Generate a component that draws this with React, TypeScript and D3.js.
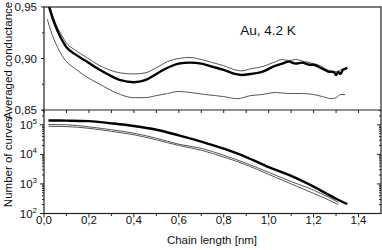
import React from 'react';
import * as d3 from 'd3';

// top panel: averaged conductance vs chain length
const condX = [0.02, 0.04, 0.06, 0.08, 0.10, 0.14, 0.19, 0.24, 0.29, 0.34, 0.40, 0.45, 0.50, 0.55, 0.60, 0.65, 0.70, 0.75, 0.80, 0.85, 0.88, 0.92, 0.97, 1.02, 1.06, 1.09, 1.12, 1.15, 1.18, 1.20, 1.23, 1.25, 1.27, 1.29, 1.30, 1.31, 1.32, 1.33, 1.34, 1.35];
const condMean = [0.952, 0.938, 0.927, 0.918, 0.911, 0.904, 0.897, 0.890, 0.884, 0.879, 0.877, 0.879, 0.885, 0.891, 0.895, 0.896, 0.895, 0.892, 0.889, 0.885, 0.884, 0.885, 0.887, 0.892, 0.895, 0.897, 0.895, 0.896, 0.894, 0.894, 0.891, 0.889, 0.887, 0.887, 0.884, 0.887, 0.885, 0.889, 0.890, 0.891];

const condUpX = [0.02, 0.04, 0.06, 0.08, 0.10, 0.14, 0.19, 0.24, 0.29, 0.34, 0.40, 0.45, 0.50, 0.55, 0.60, 0.65, 0.70, 0.75, 0.80, 0.85, 0.88, 0.92, 0.97, 1.02, 1.06, 1.09, 1.12, 1.16, 1.20, 1.23, 1.26, 1.28, 1.30, 1.32, 1.33];
const condUp = [0.955, 0.941, 0.930, 0.922, 0.915, 0.908, 0.901, 0.894, 0.889, 0.886, 0.885, 0.886, 0.891, 0.897, 0.900, 0.901, 0.899, 0.896, 0.893, 0.889, 0.888, 0.890, 0.892, 0.896, 0.899, 0.898, 0.899, 0.897, 0.895, 0.893, 0.889, 0.888, 0.887, 0.889, 0.890];

const condLowX = [0.015, 0.03, 0.06, 0.08, 0.10, 0.14, 0.19, 0.24, 0.29, 0.34, 0.40, 0.45, 0.50, 0.55, 0.60, 0.65, 0.72, 0.80, 0.86, 0.92, 0.97, 1.03, 1.09, 1.15, 1.20, 1.24, 1.28, 1.30, 1.32, 1.34];
const condLow = [0.938, 0.927, 0.911, 0.903, 0.897, 0.890, 0.882, 0.876, 0.870, 0.865, 0.862, 0.862, 0.864, 0.866, 0.868, 0.867, 0.865, 0.863, 0.861, 0.864, 0.865, 0.867, 0.866, 0.866, 0.865, 0.863, 0.861, 0.862, 0.865, 0.865];

// bottom panel: number of curves vs chain length
const countX = [0.02, 0.1, 0.2, 0.3, 0.4, 0.5, 0.6, 0.7, 0.8, 0.9, 1.0, 1.1, 1.2, 1.3, 1.35];
const countAll = [140000, 138000, 133000, 112000, 91000, 68000, 44000, 27000, 15500, 8100, 3700, 1860, 810, 316, 209];
const countThinX = [0.02, 0.1, 0.2, 0.3, 0.4, 0.5, 0.6, 0.7, 0.8, 0.9, 1.0, 1.1, 1.2, 1.3, 1.31];
const countA = [102000, 100000, 85000, 68000, 52000, 35000, 22000, 16000, 9300, 5000, 2450, 1200, 620, 263, 240];
const countB = [89000, 87000, 76000, 60000, 46000, 31000, 20000, 13800, 8100, 4400, 2100, 1000, 480, 219, 200];

const xTicks = [0, 0.2, 0.4, 0.6, 0.8, 1.0, 1.2, 1.4];
const condTicks = [0.85, 0.90, 0.95];
const countTicks = [2, 3, 4, 5];

const W = 382;
const H = 250;
const left = 44;
const right = 381;
const topY = 7;
const midY = 110;
const botY = 213.5;

const FONT = 'Arial, "Liberation Sans", sans-serif';
const AXIS = '#222';
const fmt = (v: number) => d3.format('.1f')(v).replace('.', ',');

export default function App() {
  const x = d3.scaleLinear().domain([0, 1.5]).range([left, right]);
  const yc = d3.scaleLinear().domain([0.85, 0.95]).range([midY, topY]);
  const yn = d3.scaleLog().domain([100, Math.pow(10, 5.5)]).range([botY, midY]);

  const lineC = (xs: number[], ys: number[]) =>
    d3.line<number>().x((_, i) => x(xs[i])).y(d => yc(d)).curve(d3.curveMonotoneX)(ys) || '';
  const lineN = (xs: number[], ys: number[]) =>
    d3.line<number>().x((_, i) => x(xs[i])).y(d => yn(d)).curve(d3.curveMonotoneX)(ys) || '';

  const minorX = d3.range(0, 15).map(i => i / 10);
  const logMinor: number[] = [];
  for (let e = 2; e < 6; e++) {
    for (let m = 1; m < 10; m++) {
      const v = m * Math.pow(10, e);
      if (v >= 100 && v <= Math.pow(10, 5.5)) logMinor.push(v);
    }
  }

  return (
    <svg width={W} height={H} style={{ position: 'absolute', left: 0, top: 0, background: '#fff' }}
      fontFamily={FONT}>
      <defs>
        <clipPath id="clipTop"><rect x={left} y={topY} width={right - left} height={midY - topY} /></clipPath>
        <clipPath id="clipBot"><rect x={left} y={midY} width={right - left} height={botY - midY} /></clipPath>
      </defs>

      {/* data, top panel */}
      <g clipPath="url(#clipTop)" fill="none">
        <path d={lineC(condUpX, condUp)} stroke="#555" strokeWidth={1} />
        <path d={lineC(condLowX, condLow)} stroke="#555" strokeWidth={1} />
        <path d={lineC(condX, condMean)} stroke="#000" strokeWidth={2.4} />
      </g>

      {/* data, bottom panel */}
      <g clipPath="url(#clipBot)" fill="none">
        <path d={lineN(countThinX, countA)} stroke="#555" strokeWidth={1} />
        <path d={lineN(countThinX, countB)} stroke="#555" strokeWidth={1} />
        <path d={lineN(countX, countAll)} stroke="#000" strokeWidth={2.4} />
      </g>

      {/* frames */}
      <g fill="none" stroke={AXIS} strokeWidth={1.2}>
        <rect x={left} y={topY} width={right - left} height={botY - topY} />
        <line x1={left} x2={right} y1={midY} y2={midY} />
      </g>

      {/* x ticks on the shared boundary and bottom axis */}
      <g stroke={AXIS} strokeWidth={1}>
        {minorX.map(v => (
          <line key={'m' + v} x1={x(v)} x2={x(v)} y1={midY} y2={midY + 3} />
        ))}
        {minorX.map(v => (
          <line key={'b' + v} x1={x(v)} x2={x(v)} y1={botY} y2={botY + (Math.round(v * 10) % 2 === 0 ? 4 : 2.5)} />
        ))}
      </g>
      <g fontSize={11.5} fill="#111" textAnchor="middle">
        {xTicks.map(v => (
          <text key={v} x={x(v)} y={224}>{fmt(v)}</text>
        ))}
      </g>

      {/* y ticks, top panel */}
      <g stroke={AXIS} strokeWidth={1}>
        {condTicks.map(v => (
          <line key={v} x1={left - 3} x2={left} y1={yc(v)} y2={yc(v)} />
        ))}
        {[0.875, 0.925].map(v => (
          <line key={v} x1={left - 2} x2={left} y1={yc(v)} y2={yc(v)} />
        ))}
      </g>
      <g fontSize={11.5} fill="#111" textAnchor="end">
        {condTicks.map(v => (
          <text key={v} x={37} y={yc(v) + 4}>{d3.format('.2f')(v).replace('.', ',')}</text>
        ))}
      </g>

      {/* y ticks, bottom panel (log) */}
      <g stroke={AXIS} strokeWidth={1}>
        {logMinor.map(v => {
          const major = Math.abs(Math.log10(v) - Math.round(Math.log10(v))) < 1e-9;
          const len = major ? 4 : 2;
          return (
            <g key={v}>
              <line x1={left - len} x2={left} y1={yn(v)} y2={yn(v)} />
              <line x1={right - len} x2={right} y1={yn(v)} y2={yn(v)} />
            </g>
          );
        })}
      </g>
      <g fontSize={11.5} fill="#111" textAnchor="end">
        {countTicks.map(e => (
          <text key={e} x={37} y={yn(Math.pow(10, e)) + 4}>
            10<tspan fontSize={8} dy={-5}>{e}</tspan>
          </text>
        ))}
      </g>

      {/* labels */}
      <text x={268} y={35} fontSize={13.5} textAnchor="middle" fill="#111">Au, 4.2 K</text>
      <text transform={`translate(12, ${(topY + midY) / 2 + 2}) rotate(-90)`} fontSize={11.5}
        textAnchor="middle" fill="#111">Averaged conductance</text>
      <text transform={`translate(12, ${(midY + botY) / 2}) rotate(-90)`} fontSize={11.5}
        textAnchor="middle" fill="#111">Number of curves</text>
      <text x={212} y={244} fontSize={11.5} textAnchor="middle" fill="#111">Chain length [nm]</text>
    </svg>
  );
}
